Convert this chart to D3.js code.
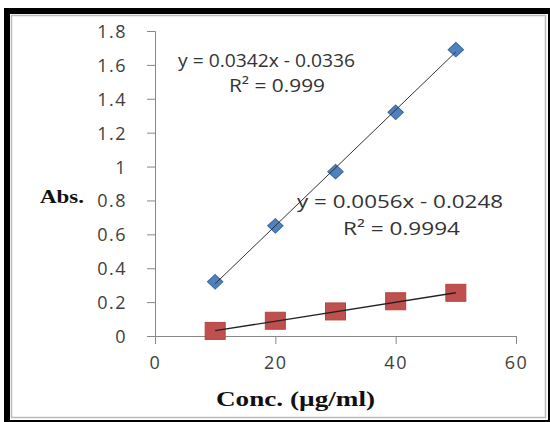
<!DOCTYPE html>
<html>
<head>
<meta charset="utf-8">
<script src="https://cdn.jsdelivr.net/npm/d3@7"></script>
<style>
  body { margin: 0; background: #fff; }
  .tick text { font-family: "Open Sans", sans-serif; font-size: 18px; fill: #404040; letter-spacing: 1.5px; }
</style>
</head>
<body>
<svg id="chart" width="550" height="422"></svg>
<script>
// calibration data
var conc = [10, 20, 30, 40, 50];
var absBlue = [0.32, 0.65, 0.97, 1.32, 1.69];
var absRed = [0.03, 0.09, 0.145, 0.205, 0.255];
var xTicks = [0, 20, 40, 60];
var yTicks = [0, 0.2, 0.4, 0.6, 0.8, 1, 1.2, 1.4, 1.6, 1.8];
var fitBlue = [0.0342, -0.0336];
var fitRed = [0.0056, -0.0248];

var svg = d3.select("#chart");

// frame
svg.append("rect").attr("x", 4).attr("y", 8).attr("width", 546).attr("height", 414).attr("fill", "#000");
svg.append("rect").attr("x", 10).attr("y", 14).attr("width", 538).attr("height", 406).attr("fill", "#fff");
svg.append("rect").attr("x", 11.5).attr("y", 15.5).attr("width", 534).attr("height", 402)
  .attr("fill", "none").attr("stroke", "#bbb").attr("stroke-width", 1.5);

var x = d3.scaleLinear().domain([0, 60]).range([155, 516]);
var y = d3.scaleLinear().domain([0, 1.8]).range([336, 31]);

var yAxis = svg.append("g").attr("transform", "translate(155,0)")
  .call(d3.axisLeft(y).tickValues(yTicks).tickSize(8).tickPadding(20)
    .tickFormat(function(d) { return d3.format("~g")(d); }));
var xAxis = svg.append("g").attr("transform", "translate(0,336)")
  .call(d3.axisBottom(x).tickValues(xTicks).tickSize(8).tickPadding(12));
[yAxis, xAxis].forEach(function(a) {
  a.select(".domain").attr("stroke", "#888");
  a.selectAll(".tick line").attr("stroke", "#888");
});
yAxis.selectAll(".tick text").attr("dy", "0.36em");

// trend lines
function trend(fit) {
  return [[10, fit[0] * 10 + fit[1]], [50, fit[0] * 50 + fit[1]]];
}
var line = d3.line().x(function(d) { return x(d[0]); }).y(function(d) { return y(d[1]); });

// markers
var blue = conc.map(function(c, i) { return [c, absBlue[i]]; });
var red = conc.map(function(c, i) { return [c, absRed[i]]; });

svg.selectAll(".sq").data(red).enter().append("rect")
  .attr("x", function(d) { return x(d[0]) - 10; })
  .attr("y", function(d) { return y(d[1]) - 8.5; })
  .attr("width", 20).attr("height", 17)
  .attr("fill", "#c0504d").attr("stroke", "#b04643").attr("stroke-width", 1);

svg.selectAll(".dm").data(blue).enter().append("path")
  .attr("transform", function(d) { return "translate(" + x(d[0]) + "," + y(d[1]) + ") scale(1.06,1)"; })
  .attr("d", d3.symbol().type(d3.symbolDiamond2).size(135))
  .attr("fill", "#4f81bd").attr("stroke", "#3c6aa5").attr("stroke-width", 1);

svg.append("path").attr("d", line(trend(fitBlue))).attr("stroke", "#333").attr("stroke-width", 1).attr("fill", "none");
svg.append("path").attr("d", line(trend(fitRed))).attr("stroke", "#222").attr("stroke-width", 1.3).attr("fill", "none");

// equations
var eq = svg.append("g").attr("font-family", "Open Sans, sans-serif").attr("font-size", 18).attr("fill", "#333");
eq.append("text").attr("x", 178).attr("y", 67).attr("textLength", 177).attr("lengthAdjust", "spacingAndGlyphs")
  .text("y = 0.0342x - 0.0336");
eq.append("text").attr("x", 229).attr("y", 92).attr("textLength", 96).attr("lengthAdjust", "spacingAndGlyphs")
  .text("R² = 0.999");
eq.append("text").attr("x", 297).attr("y", 208).attr("textLength", 206).attr("lengthAdjust", "spacingAndGlyphs")
  .text("y = 0.0056x - 0.0248");
eq.append("text").attr("x", 343).attr("y", 235).attr("textLength", 117).attr("lengthAdjust", "spacingAndGlyphs")
  .text("R² = 0.9994");

// axis titles
svg.append("text").attr("x", 40).attr("y", 203)
  .attr("font-family", "Liberation Serif, serif").attr("font-weight", "bold").attr("font-size", 19)
  .attr("textLength", 44).attr("lengthAdjust", "spacingAndGlyphs")
  .attr("fill", "#111").text("Abs.");
svg.append("text").attr("x", 216).attr("y", 406)
  .attr("font-family", "Liberation Serif, serif").attr("font-weight", "bold").attr("font-size", 21)
  .attr("textLength", 159).attr("lengthAdjust", "spacingAndGlyphs")
  .attr("fill", "#111").text("Conc. (µg/ml)");
</script>
</body>
</html>
